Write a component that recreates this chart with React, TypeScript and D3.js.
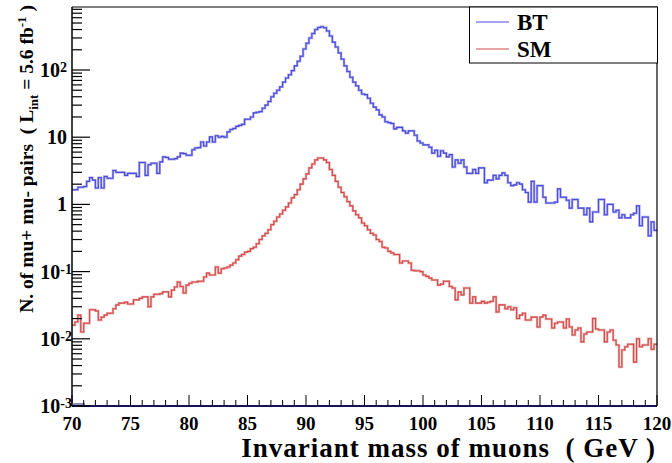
import React from "react";
import * as d3 from "d3";

// ---------------- data ----------------
const X_MIN = 70;
const X_MAX = 120;
const BIN_WIDTH = 0.25;

const btValues = [
  1.65, 1.65, 1.8, 1.8, 1.85, 2.2, 2.5, 2.3, 1.75, 2.5,
  1.75, 2.6, 2.45, 2.45, 3.2, 3.0, 3.0, 3.0, 2.7, 2.9,
  2.9, 2.9, 2.6, 4.2, 4.2, 2.7, 3.9, 4.1, 4.1, 2.9,
  4.3, 5.1, 5.0, 4.7, 4.7, 4.8, 5.1, 5.8, 5.7, 5.4,
  5.4, 6.5, 6.9, 7.0, 8.5, 7.4, 8.5, 10.1, 8.5, 10.5,
  10, 10.3, 10, 12, 13, 13.5, 14.5, 15, 15.5, 18.5,
  18.5, 20, 23, 23.5, 24, 27, 30, 34, 40, 45,
  50, 56, 66, 76, 85, 98, 115, 135, 160, 205,
  250, 300, 350, 400, 430, 440, 425, 380, 320, 260,
  220, 180, 145, 115, 95, 78, 66, 58, 50, 44,
  43, 38, 32, 28, 25.5, 21.5, 20, 17, 16.5, 16,
  13.3, 14, 14, 12.4, 11.5, 12.4, 12.4, 10.7, 8.8, 8.2,
  7.7, 7.7, 7.1, 5.8, 6.4, 5.2, 6.3, 5.8, 5.1, 5.5,
  3.6, 4.6, 4.1, 4.6, 3.6, 2.9, 2.9, 3.3, 2.9, 3.5,
  3.5, 2.1, 2.3, 2.3, 2.7, 2.4, 2.7, 2.95, 2.7, 2.1,
  1.9, 1.95, 2.1, 2.0, 1.65, 1.5, 1.08, 2.2, 1.08, 1.9,
  1.9, 1.28, 1.05, 1.05, 1.05, 1.08, 1.7, 1.28, 1.28, 1.15,
  0.88, 1.18, 1.18, 0.88, 0.88, 0.7, 0.88, 0.55, 0.77, 0.77,
  1.18, 1.18, 0.7, 1.0, 1.0, 0.77, 0.82, 0.63, 0.7, 0.63,
  0.63, 0.7, 0.74, 0.95, 0.48, 0.65, 0.65, 0.34, 0.55, 0.41,
];

const smValues = [
  0.016, 0.0178, 0.0225, 0.0126, 0.017, 0.017, 0.027, 0.027, 0.026, 0.019,
  0.021, 0.0225, 0.024, 0.024, 0.028, 0.032, 0.034, 0.034, 0.035, 0.033,
  0.033, 0.038, 0.038, 0.04, 0.042, 0.042, 0.03, 0.042, 0.046, 0.046,
  0.047, 0.05, 0.05, 0.042, 0.053, 0.059, 0.07, 0.06, 0.048, 0.063,
  0.067, 0.07, 0.07, 0.072, 0.072, 0.083, 0.095, 0.089, 0.089, 0.117,
  0.095, 0.11, 0.113, 0.117, 0.125, 0.134, 0.15, 0.17, 0.18, 0.195,
  0.2, 0.22, 0.23, 0.26, 0.3, 0.34, 0.37, 0.42, 0.5, 0.56,
  0.65, 0.72, 0.82, 0.92, 1.05, 1.25, 1.4, 1.65, 2.0, 2.4,
  2.85, 3.5, 4.0, 4.6, 4.9, 4.9, 4.6, 4.2, 3.3, 2.7,
  2.2, 1.8, 1.5, 1.3, 1.1, 0.95, 0.8, 0.7, 0.63, 0.53,
  0.48, 0.42, 0.37, 0.35, 0.3, 0.28, 0.23, 0.225, 0.2, 0.19,
  0.18, 0.18, 0.134, 0.144, 0.144, 0.134, 0.105, 0.103, 0.103, 0.1,
  0.089, 0.085, 0.08, 0.075, 0.075, 0.063, 0.065, 0.072, 0.072, 0.06,
  0.057, 0.038, 0.05, 0.045, 0.057, 0.057, 0.034, 0.042, 0.034, 0.034,
  0.036, 0.034, 0.035, 0.036, 0.042, 0.025, 0.032, 0.032, 0.028, 0.03,
  0.027, 0.029, 0.02, 0.0225, 0.024, 0.019, 0.019, 0.021, 0.021, 0.015,
  0.021, 0.0225, 0.0197, 0.0197, 0.0145, 0.017, 0.0178, 0.0178, 0.0145, 0.0197,
  0.015, 0.0114, 0.0135, 0.0145, 0.009, 0.0118, 0.0126, 0.0126, 0.02, 0.014,
  0.0135, 0.0135, 0.009, 0.0126, 0.0135, 0.0095, 0.0081, 0.0038, 0.0068, 0.0076,
  0.0083, 0.0083, 0.0045, 0.01, 0.0076, 0.0081, 0.0081, 0.01, 0.007, 0.0083,
];

const xTickValues = [70, 75, 80, 85, 90, 95, 100, 105, 110, 115, 120];
const yTickValues = [1e-3, 1e-2, 1e-1, 1, 10, 100];
const yTickBase = ["10", "10", "10", "1", "10", "10"];
const yTickExp = ["-3", "-2", "-1", "", "", "2"];
const seriesNames = ["BT", "SM"];
const seriesColors = ["#4a4ad8", "#d04a4a"];
const haloColors = ["#a9a9f0", "#eeaaaa"];

// ---------------- layout ----------------
const W = 672;
const H = 463;
const L = 72;
const R = 657;
const T = 7;
const B = 406;
const Y_TOP = Math.pow(10, 2.9375);
const FONT = "'Liberation Serif', 'Times New Roman', serif";

export default function App() {
  const x = d3.scaleLinear().domain([X_MIN, X_MAX]).range([L, R]);
  const y = d3.scaleLog().domain([1e-3, Y_TOP]).range([B, T]);

  const makePath = (vals: number[]) => {
    const pts: [number, number][] = vals.map((v, i) => [X_MIN + i * BIN_WIDTH, v]);
    pts.push([X_MIN + vals.length * BIN_WIDTH, vals[vals.length - 1]]);
    return d3
      .line<[number, number]>()
      .x((d) => x(d[0]))
      .y((d) => y(d[1]))
      .curve(d3.curveStepAfter)(pts) as string;
  };
  const paths = [makePath(btValues), makePath(smValues)];

  // minor ticks
  const xMinor = d3.range(X_MIN, X_MAX + 0.001, 1).filter((v) => v % 5 !== 0);
  const yMinor: number[] = [];
  for (let e = -3; e <= 2; e++) {
    for (let k = 2; k <= 9; k++) {
      const v = k * Math.pow(10, e);
      if (v <= Y_TOP) yMinor.push(v);
    }
  }

  return (
    <svg
      width={W}
      height={H}
      style={{ position: "absolute", left: 0, top: 0, background: "#fff" }}
      fontFamily={FONT}
    >
      <rect x={0} y={0} width={W} height={H} fill="#fff" />
      {/* histograms */}
      {paths.map((p, i) => (
        <g key={i}>
          <path d={p} fill="none" stroke={haloColors[i]} strokeWidth={2.4} />
          <path d={p} fill="none" stroke={seriesColors[i]} strokeWidth={1.1} />
        </g>
      ))}

      {/* frame */}
      <line x1={L} y1={T} x2={R} y2={T} stroke="#000" strokeWidth={1} />
      <line x1={R} y1={T} x2={R} y2={B} stroke="#000" strokeWidth={1.2} />
      <line x1={L} y1={T} x2={L} y2={B} stroke="#000" strokeWidth={1.5} />
      <rect x={L} y={B - 3} width={13} height={3} fill="#8d8db5" />
      <line x1={L} y1={B} x2={R} y2={B} stroke="#14145a" strokeWidth={2} />

      {/* x ticks */}
      {xTickValues.map((v) => (
        <line key={"xt" + v} x1={x(v)} x2={x(v)} y1={B} y2={B - 11} stroke="#000" strokeWidth={1} />
      ))}
      {xMinor.map((v) => (
        <line key={"xm" + v} x1={x(v)} x2={x(v)} y1={B} y2={B - 6} stroke="#000" strokeWidth={1} />
      ))}
      {xTickValues.map((v) => (
        <text
          key={"xl" + v}
          x={x(v)}
          y={430}
          textAnchor="middle"
          fontSize={19}
          fontWeight="bold"
        >
          {v}
        </text>
      ))}

      {/* y ticks */}
      {yTickValues.map((v) => (
        <line key={"yt" + v} x1={L} x2={L + 18} y1={y(v)} y2={y(v)} stroke="#000" strokeWidth={1.2} />
      ))}
      {yMinor.map((v) => (
        <line key={"ym" + v} x1={L} x2={L + 10} y1={y(v)} y2={y(v)} stroke="#000" strokeWidth={1.2} />
      ))}
      {yTickValues.map((v, i) => (
        <text
          key={"yl" + v}
          x={yTickExp[i].startsWith("-") ? 72 : 67}
          y={y(v) + 7}
          textAnchor="end"
          fontSize={20}
          fontWeight="bold"
        >
          {yTickBase[i]}
          {yTickExp[i] ? (
            <tspan fontSize={14} dy={-5}>
              {yTickExp[i]}
            </tspan>
          ) : null}
        </text>
      ))}

      {/* axis titles */}
      <text
        x={656}
        y={457}
        textAnchor="end"
        fontSize={27}
        fontWeight="bold"
        letterSpacing={1}
        style={{ whiteSpace: "pre" }}
      >
        {"Invariant mass of muons  ( GeV )"}
      </text>
      <text
        transform="translate(33,5) rotate(-90)"
        textAnchor="end"
        fontSize={19.5}
        fontWeight="bold"
        style={{ whiteSpace: "pre" }}
      >
        {"N. of mu+ mu- pairs  ( L"}
        <tspan fontSize={13} dy={5}>int</tspan>
        <tspan dy={-5}>{" = 5.6 fb"}</tspan>
        <tspan fontSize={13} dy={-7}>-1</tspan>
        <tspan dy={7}>{" )"}</tspan>
      </text>

      {/* legend */}
      <rect x={469.5} y={T} width={188} height={56} fill="#fff" stroke="#000" strokeWidth={1} />
      {seriesNames.map((n, i) => (
        <g key={n}>
          <line
            x1={476}
            x2={509}
            y1={22 + i * 27}
            y2={22 + i * 27}
            stroke={seriesColors[i]}
            strokeWidth={1.2}
          />
          <text x={517} y={29.5 + i * 27.5} fontSize={23} fontWeight="bold">
            {n}
          </text>
        </g>
      ))}
    </svg>
  );
}
